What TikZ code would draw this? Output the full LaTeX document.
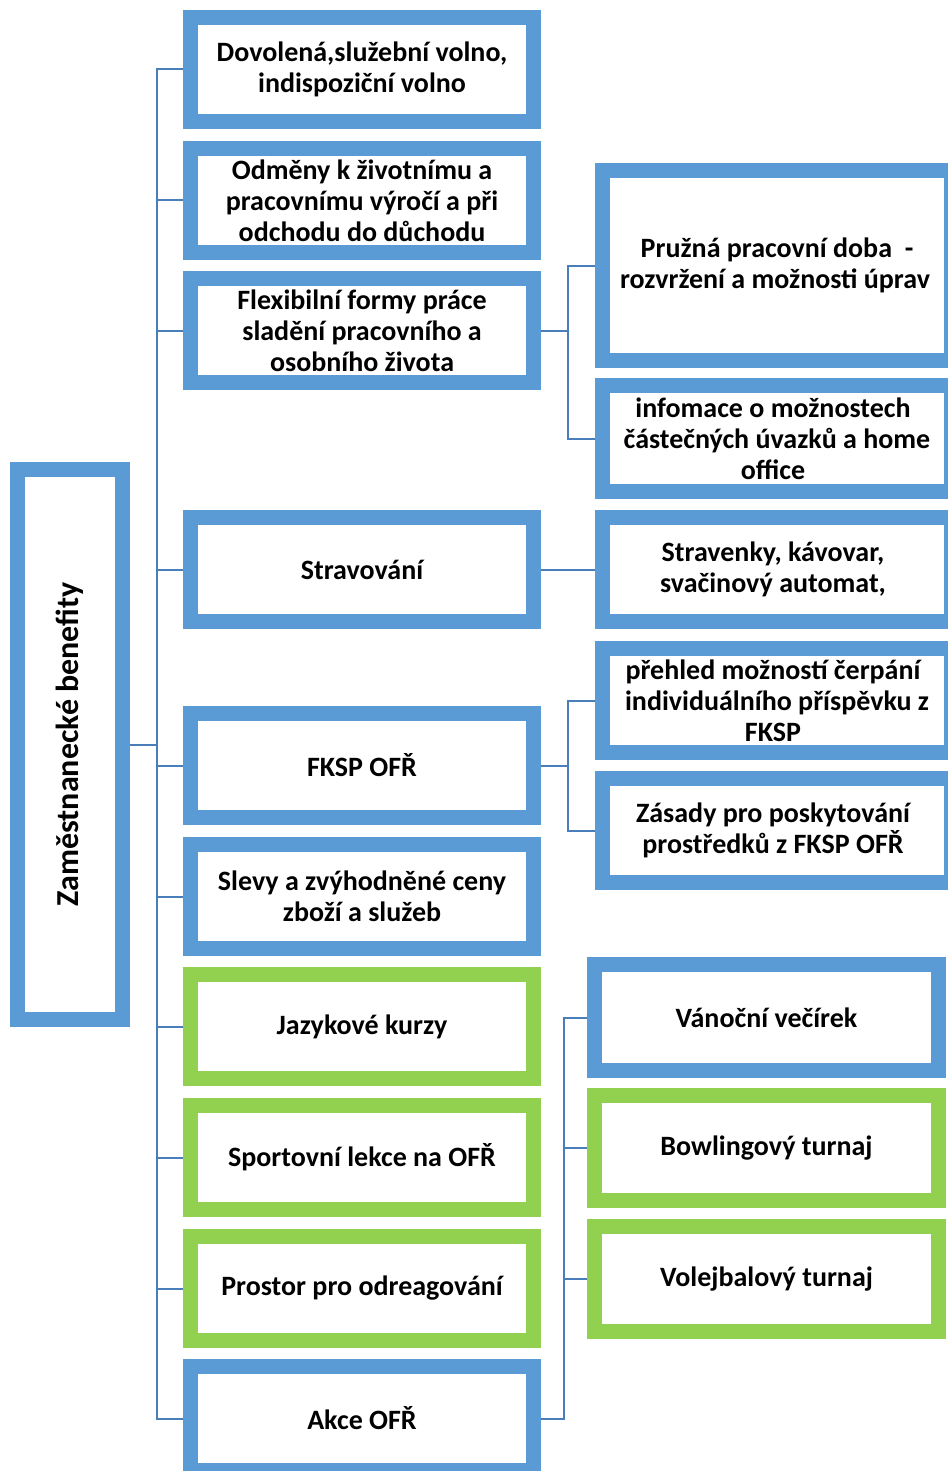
\documentclass[tikz,border=0pt]{standalone}
\usepackage{fontspec}
\setmainfont{Carlito}
\usetikzlibrary{backgrounds}
\definecolor{boxblue}{HTML}{5B9BD5}
\definecolor{boxgreen}{HTML}{92D050}
\definecolor{linkblue}{HTML}{4A7EBB}
\tikzset{
  card/.style={draw=boxblue, fill=white, line width=15pt, align=center,
    font=\bfseries\fontsize{28}{30.8}\selectfont, inner sep=0pt},
  leftcard/.style={card, minimum width=343pt, minimum height=104pt},
  rightcard/.style={card, minimum width=349pt, minimum height=104pt},
  greencard/.style={draw=boxgreen},
  link/.style={draw=linkblue, line width=2pt}
}
\begin{document}
\begin{tikzpicture}[x=1pt,y=-1pt]
\useasboundingbox (0,0) rectangle (947,1471);
% root
\node[card, minimum width=105pt, minimum height=550pt] (root) at (70,744.5)
  {\rotatebox{90}{\fontsize{32}{36}\selectfont Zaměstnanecké benefity}};
% left column
\node[leftcard] (b1) at (362,69.5) {Dovolená,služební volno,\\indispoziční volno};
\node[leftcard] (b2) at (362,200.5) {Odměny k životnímu a\\pracovnímu výročí a při\\odchodu do důchodu};
\node[leftcard] (b3) at (362,330.5) {Flexibilní formy práce\\sladění pracovního a\\osobního života};
\node[leftcard] (b4) at (362,569.5) {Stravování};
\node[leftcard] (b5) at (362,765.5) {FKSP OFŘ};
\node[leftcard] (b6) at (362,896.5) {Slevy a zvýhodněné ceny\\zboží a služeb};
\node[leftcard, greencard] (b7) at (362,1026.5) {Jazykové kurzy};
\node[leftcard, greencard] (b8) at (362,1157.5) {Sportovní lekce na OFŘ};
\node[leftcard, greencard] (b9) at (362,1288.5) {Prostor pro odreagování};
\node[leftcard] (b10) at (362,1418.5) {Akce OFŘ};
% right column
\node[rightcard, minimum height=190pt] (r1) at (777,265.5) {Pružná pracovní doba~~-\\rozvržení a možnosti úprav\hspace*{4pt}};
\node[rightcard, minimum height=106pt] (r2) at (777,438.5) {infomace o možnostech\hspace*{8pt}\\částečných úvazků a home\hspace*{8pt}\\office\hspace*{8pt}};
\node[rightcard] (r3) at (777,569.5) {Stravenky, kávovar,\hspace*{8pt}\\svačinový automat,\hspace*{8pt}};
\node[rightcard] (r4) at (777,700.5) {přehled možností čerpání\hspace*{8pt}\\individuálního příspěvku z\hspace*{8pt}\\FKSP\hspace*{8pt}};
\node[rightcard] (r5) at (777,830.5) {Zásady pro poskytování\hspace*{8pt}\\prostředků z FKSP OFŘ\hspace*{8pt}};
\node[card, minimum width=344pt, minimum height=106pt] (r6) at (766.5,1017.5) {Vánoční večírek};
\node[card, greencard, minimum width=344pt, minimum height=105pt] (r7) at (766.5,1148) {Bowlingový turnaj};
\node[card, greencard, minimum width=344pt, minimum height=105pt] (r8) at (766.5,1279) {Volejbalový turnaj};
% connectors
\begin{scope}[on background layer]
\coordinate (trunk) at (157,0);
\coordinate (fork1) at (568,0);
\coordinate (fork2) at (564,0);
\draw[link] (root.east) -- (root.east -| trunk);
\draw[link] (b1.west) -- (b1.west -| trunk) -- (b10.west -| trunk) -- (b10.west);
\foreach \n in {b2,b3,b4,b5,b6,b7,b8,b9}
  \draw[link] (\n.west) -- (\n.west -| trunk);
\draw[link] (b3.east) -- (b3.east -| fork1);
\draw[link] (r1.west) -- (r1.west -| fork1) -- (r2.west -| fork1) -- (r2.west);
\draw[link] (b4.east) -- (r3.west);
\draw[link] (b5.east) -- (b5.east -| fork1);
\draw[link] (r4.west) -- (r4.west -| fork1) -- (r5.west -| fork1) -- (r5.west);
\draw[link] (b10.east) -- (b10.east -| fork2) -- (r6.west -| fork2) -- (r6.west);
\draw[link] (r7.west) -- (r7.west -| fork2);
\draw[link] (r8.west) -- (r8.west -| fork2);
\end{scope}
\end{tikzpicture}
\end{document}
